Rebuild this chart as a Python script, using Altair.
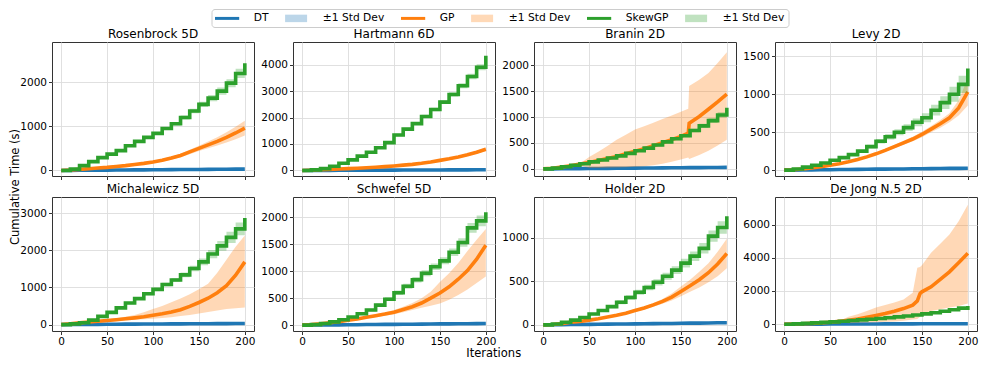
import altair as alt
import pandas as pd

# ---------------- data ----------------
ITERS = [0, 10, 20, 30, 40, 50, 60, 70, 80, 90, 100, 110, 120, 130, 140, 150, 160, 170, 180, 190, 200]
X_TICKS = [0, 50, 100, 150, 200]

TITLES = ["Rosenbrock 5D", "Hartmann 6D", "Branin 2D", "Levy 2D",
          "Michalewicz 5D", "Schwefel 5D", "Holder 2D", "De Jong N.5 2D"]
Y_DOMAINS = [[-126, 2914], [-210, 4853], [-137, 2446], [-77, 1688],
             [-173, 3438], [-108, 2371], [-70, 1470], [-410, 7660]]
Y_TICKS = [[0, 1000, 2000], [0, 1000, 2000, 3000, 4000], [0, 500, 1000, 1500, 2000],
           [0, 500, 1000, 1500], [0, 1000, 2000, 3000], [0, 500, 1000, 1500, 2000],
           [0, 500, 1000], [0, 2000, 4000, 6000]]

DT_SD = [0, 0.5, 1, 1, 1.5, 1.5, 2, 2, 2, 2.5, 2.5, 3, 3, 3, 3.5, 3.5, 4, 4, 4, 4.5, 4.5]

# Rosenbrock 5D
ROS_DT = [0, 2, 3, 5, 6, 8, 9, 11, 12, 14, 15, 17, 18, 20, 21, 23, 24, 26, 27, 29, 30]
ROS_GP = [0, 10, 25, 40, 55, 70, 90, 110, 135, 160, 190, 230, 280, 340, 420, 500, 580, 660, 750, 850, 960]
ROS_GP_SD = [0, 2, 4, 6, 8, 10, 12, 14, 16, 20, 25, 30, 35, 40, 50, 60, 75, 95, 115, 140, 170]
ROS_SK = [0, 30, 110, 200, 290, 370, 450, 560, 660, 750, 840, 950, 1060, 1200, 1350, 1500, 1640, 1800, 1980, 2200, 2430]
ROS_SK_SD = [0, 5, 8, 12, 15, 18, 20, 22, 25, 28, 30, 35, 40, 45, 50, 60, 70, 80, 90, 105, 120]

# Hartmann 6D
HAR_DT = [0, 1, 3, 4, 5, 6, 8, 9, 10, 12, 13, 14, 15, 17, 18, 19, 21, 22, 23, 24, 26]
HAR_GP = [0, 10, 25, 40, 55, 70, 85, 100, 120, 145, 170, 200, 230, 270, 320, 380, 440, 510, 590, 690, 800]
HAR_GP_SD = [0, 2, 3, 4, 5, 6, 7, 8, 10, 12, 14, 16, 18, 20, 23, 27, 32, 38, 45, 55, 70]
HAR_SK = [0, 20, 70, 160, 270, 400, 540, 690, 860, 1050, 1340, 1560, 1770, 2040, 2300, 2580, 2870, 3200, 3550, 3900, 4330]
HAR_SK_SD = [0, 5, 8, 12, 15, 20, 25, 30, 35, 40, 45, 50, 55, 60, 65, 70, 80, 90, 100, 110, 120]

# Branin 2D
BRA_DT = [0, 1, 3, 4, 6, 7, 9, 10, 12, 13, 15, 16, 18, 19, 21, 22, 24, 25, 27, 28, 30]
BRA_GP_X = [0, 10, 20, 30, 40, 50, 60, 70, 80, 90, 100, 110, 120, 130, 140, 150, 158, 159, 170, 180, 190, 200]
BRA_GP = [0, 12, 35, 62, 92, 125, 160, 200, 240, 290, 340, 390, 445, 505, 565, 625, 690, 880, 1010, 1150, 1290, 1440]
BRA_GP_HI = [0, 15, 40, 65, 100, 230, 330, 440, 560, 660, 760, 820, 890, 960, 1030, 1100, 1160, 1600, 1720, 1850, 2040, 2250]
BRA_GP_LO = [0, 8, 25, 45, 70, 15, 15, 20, 25, 30, 40, 50, 70, 100, 140, 180, 220, 190, 270, 350, 450, 560]
BRA_SK = [0, 15, 40, 70, 100, 135, 170, 210, 250, 300, 350, 400, 460, 520, 580, 640, 740, 830, 930, 1040, 1180]
BRA_SK_SD = [0, 3, 5, 8, 10, 12, 14, 16, 18, 20, 22, 24, 26, 28, 30, 32, 35, 40, 45, 50, 60]

# Levy 2D
LEV_DT = [0, 1, 3, 4, 5, 6, 8, 9, 10, 11, 13, 14, 15, 16, 18, 19, 20, 21, 23, 24, 25]
LEV_GP = [0, 5, 15, 30, 45, 65, 85, 110, 140, 175, 215, 260, 310, 360, 410, 470, 540, 610, 690, 820, 1030]
LEV_GP_SD = [0, 1, 2, 3, 4, 5, 6, 8, 10, 12, 15, 18, 22, 26, 30, 35, 42, 50, 60, 100, 180]
LEV_SK = [0, 15, 40, 65, 95, 130, 165, 205, 250, 310, 380, 440, 500, 560, 630, 690, 790, 890, 1000, 1130, 1340]
LEV_SK_SD = [0, 3, 5, 7, 9, 11, 13, 16, 20, 25, 30, 35, 40, 45, 52, 60, 70, 85, 100, 115, 130]

# Michalewicz 5D
MIC_DT = [0, 2, 3, 5, 6, 8, 9, 11, 12, 14, 15, 17, 18, 20, 21, 23, 24, 26, 27, 29, 30]
MIC_GP = [0, 20, 45, 70, 90, 110, 130, 155, 180, 210, 250, 290, 340, 400, 490, 595, 710, 860, 1050, 1330, 1690]
MIC_GP_HI = [0, 25, 55, 85, 110, 140, 170, 210, 260, 330, 420, 500, 600, 700, 820, 950, 1100, 1400, 1750, 2100, 2400]
MIC_GP_LO = [0, 15, 38, 58, 72, 85, 98, 112, 128, 145, 160, 180, 200, 230, 260, 300, 340, 380, 420, 440, 460]
MIC_SK = [0, 20, 50, 120, 220, 330, 450, 580, 700, 830, 950, 1080, 1200, 1340, 1510, 1690, 1900, 2120, 2350, 2580, 2870]
MIC_SK_SD = [0, 5, 8, 12, 16, 20, 25, 30, 35, 40, 45, 50, 55, 65, 75, 90, 110, 130, 150, 170, 200]

# Schwefel 5D
SCH_DT = [0, 2, 3, 5, 6, 8, 9, 11, 12, 14, 15, 17, 18, 20, 21, 23, 24, 26, 27, 29, 30]
SCH_GP = [0, 10, 25, 45, 65, 90, 115, 145, 175, 205, 240, 290, 340, 410, 500, 595, 710, 850, 1010, 1220, 1480]
SCH_GP_HI = [0, 12, 30, 52, 75, 100, 130, 165, 200, 235, 280, 340, 410, 500, 620, 800, 960, 1150, 1370, 1580, 1780]
SCH_GP_LO = [0, 8, 20, 38, 55, 80, 100, 125, 150, 175, 200, 240, 280, 320, 360, 400, 470, 560, 660, 780, 900]
SCH_SK = [0, 10, 30, 60, 100, 150, 210, 280, 370, 480, 600, 720, 840, 960, 1080, 1190, 1350, 1530, 1800, 1930, 2090]
SCH_SK_SD = [0, 3, 5, 8, 10, 15, 20, 25, 30, 35, 40, 45, 50, 55, 60, 65, 70, 80, 90, 100, 110]

# Holder 2D
HOL_DT = [0, 1, 2, 4, 5, 6, 7, 9, 10, 11, 12, 14, 15, 16, 17, 19, 20, 21, 22, 24, 25]
HOL_GP = [0, 5, 15, 30, 40, 55, 70, 90, 110, 135, 165, 195, 230, 270, 320, 385, 450, 520, 600, 700, 820]
HOL_GP_SD = [0, 1, 2, 3, 4, 5, 6, 8, 10, 12, 15, 18, 22, 28, 40, 55, 70, 90, 110, 140, 170]
HOL_SK = [0, 10, 30, 55, 85, 125, 165, 210, 260, 315, 375, 430, 490, 560, 630, 710, 790, 880, 1020, 1120, 1250]
HOL_SK_SD = [0, 3, 5, 8, 10, 13, 16, 19, 22, 25, 28, 32, 36, 40, 45, 50, 55, 60, 65, 72, 80]

# De Jong N.5 2D
DJ_DT = [0, 2, 3, 5, 6, 8, 9, 11, 12, 14, 15, 17, 18, 20, 21, 23, 24, 26, 27, 29, 30]
DJ_GP_X = [0, 10, 20, 30, 40, 50, 60, 70, 80, 90, 100, 110, 120, 130, 140, 145, 148, 150, 160, 170, 180, 190, 200]
DJ_GP = [0, 10, 30, 50, 80, 120, 170, 230, 310, 410, 520, 640, 780, 940, 1150, 1400, 1850, 1950, 2250, 2700, 3150, 3700, 4270]
DJ_GP_HI = [0, 12, 33, 56, 90, 135, 190, 450, 600, 800, 1000, 1150, 1300, 1480, 1900, 3400, 3450, 3550, 4300, 4850, 5400, 6200, 7200]
DJ_GP_LO = [0, 8, 27, 44, 70, 105, 150, 60, 80, 100, 120, 140, 160, 200, 280, 320, 450, 600, 800, 900, 1000, 1100, 1250]
DJ_SK = [0, 20, 50, 80, 110, 140, 180, 220, 260, 300, 340, 390, 440, 490, 550, 620, 690, 780, 870, 970, 1100]
DJ_SK_SD = [0, 3, 5, 7, 9, 11, 13, 15, 17, 19, 21, 23, 25, 28, 31, 34, 38, 42, 46, 50, 55]

# legend entries (the three band entries share one visible text; zero-width marks keep them distinct)
SD_LABEL = "±1 Std Dev"
LEGEND_KEYS = ["DT", SD_LABEL, "GP", SD_LABEL + "\u200b", "SkewGP", SD_LABEL + "\u200b\u200b"]
SERIES_KEYS = ["DT", "GP", "SkewGP"]
LINE_COLORS = ["#1f77b4", "#ff7f0e", "#2ca02c"]
LEGEND_COLORS = ["#1f77b4", "#bcd6e9", "#ff7f0e", "#ffd9b7", "#2ca02c", "#c0e2c0"]


def sd_bounds(mean, sd):
    return [m - s for m, s in zip(mean, sd)], [m + s for m, s in zip(mean, sd)]


def frame(x, mean, lo, hi, key):
    return pd.DataFrame({"iter": x, "mean": mean, "lo": lo, "hi": hi, "key": key})


def sd_frame(mean, sd, key, x=ITERS):
    lo, hi = sd_bounds(mean, sd)
    return frame(x, mean, lo, hi, key)


PANEL_SERIES = [
    [sd_frame(ROS_DT, DT_SD, "DT"), sd_frame(ROS_GP, ROS_GP_SD, "GP"), sd_frame(ROS_SK, ROS_SK_SD, "SkewGP")],
    [sd_frame(HAR_DT, DT_SD, "DT"), sd_frame(HAR_GP, HAR_GP_SD, "GP"), sd_frame(HAR_SK, HAR_SK_SD, "SkewGP")],
    [sd_frame(BRA_DT, DT_SD, "DT"), frame(BRA_GP_X, BRA_GP, BRA_GP_LO, BRA_GP_HI, "GP"), sd_frame(BRA_SK, BRA_SK_SD, "SkewGP")],
    [sd_frame(LEV_DT, DT_SD, "DT"), sd_frame(LEV_GP, LEV_GP_SD, "GP"), sd_frame(LEV_SK, LEV_SK_SD, "SkewGP")],
    [sd_frame(MIC_DT, DT_SD, "DT"), frame(ITERS, MIC_GP, MIC_GP_LO, MIC_GP_HI, "GP"), sd_frame(MIC_SK, MIC_SK_SD, "SkewGP")],
    [sd_frame(SCH_DT, DT_SD, "DT"), frame(ITERS, SCH_GP, SCH_GP_LO, SCH_GP_HI, "GP"), sd_frame(SCH_SK, SCH_SK_SD, "SkewGP")],
    [sd_frame(HOL_DT, DT_SD, "DT"), sd_frame(HOL_GP, HOL_GP_SD, "GP"), sd_frame(HOL_SK, HOL_SK_SD, "SkewGP")],
    [sd_frame(DJ_DT, DT_SD, "DT"), frame(DJ_GP_X, DJ_GP, DJ_GP_LO, DJ_GP_HI, "GP"), sd_frame(DJ_SK, DJ_SK_SD, "SkewGP")],
]

# ---------------- styling ----------------
FONT = "DejaVu Sans"
W, H = 202, 134
COL_GAP, ROW_GAP = 39, 21

LINE_PATH = "M-2.2,-0.27H2.2V0.27H-2.2Z"
RECT_PATH = "M-2,-0.68H2V0.68H-2Z"
SHAPES = [LINE_PATH, RECT_PATH, LINE_PATH, RECT_PATH, LINE_PATH, RECT_PATH]

color_scale = alt.Scale(domain=LEGEND_KEYS, range=LEGEND_COLORS)
stroke_scale = alt.Scale(domain=SERIES_KEYS, range=LINE_COLORS)
fill_scale = alt.Scale(domain=SERIES_KEYS, range=LINE_COLORS)
shape_scale = alt.Scale(domain=LEGEND_KEYS, range=SHAPES)
x_scale = alt.Scale(domain=[-10, 210], nice=False, zero=False)

legend_props = dict(
    title=None,
    orient="none",
    legendX=159.5,
    legendY=-33,
    direction="horizontal",
    labelFont=FONT,
    labelFontSize=10.7,
    labelColor="black",
    labelOffset=21.2,
    labelLimit=200,
    symbolOffset=6.6,
    symbolSize=121,
    symbolStrokeWidth=0,
    columnPadding=15,
    padding=3.5,
    strokeColor="#cccccc",
    fillColor="white",
    cornerRadius=3,
)


def panel(i):
    y_scale = alt.Scale(domain=Y_DOMAINS[i], nice=False, zero=False)
    x_axis_kw = dict(values=X_TICKS, labels=i >= 4, labelFlush=False, title=None)
    if i == 5:
        x_axis_kw.update(title="Iterations", titleX=493.5 - (52.25 + W + COL_GAP), titleY=22,
                         titleBaseline="middle", titleAlign="center")
    y_axis_kw = dict(values=Y_TICKS[i], format="d", title=None, labelFlush=False)
    if i == 0:
        y_axis_kw.update(title="Cumulative Time (s)", titleX=-37, titleY=(2 * H + ROW_GAP) / 2,
                         titleBaseline="middle", titleAlign="center", titleAngle=270)
    x_axis = alt.Axis(**x_axis_kw)
    y_axis = alt.Axis(**y_axis_kw)

    layers = []
    for df, interp in zip(PANEL_SERIES[i], ["linear", "linear", "step-after"]):
        band = alt.Chart(df).mark_area(opacity=0.3, interpolate=interp).encode(
            x=alt.X("iter:Q", scale=x_scale, axis=x_axis),
            y=alt.Y("lo:Q", scale=y_scale, axis=y_axis),
            y2="hi:Q",
            fill=alt.Fill("key:N", scale=fill_scale, legend=None),
        )
        line = alt.Chart(df).mark_line(strokeWidth=3.6, interpolate=interp).encode(
            x=alt.X("iter:Q", scale=x_scale, axis=x_axis),
            y=alt.Y("mean:Q", scale=y_scale, axis=y_axis),
            stroke=alt.Stroke("key:N", scale=stroke_scale, legend=None),
        )
        layers += [band, line]

    if i == 0:
        leg_df = pd.DataFrame({"key": LEGEND_KEYS, "iter": [-1000] * 6, "mean": [0] * 6})
        leg = alt.Chart(leg_df).mark_point(filled=True, size=121, opacity=1, clip=True).encode(
            x=alt.X("iter:Q", scale=x_scale, axis=x_axis),
            y=alt.Y("mean:Q", scale=y_scale, axis=y_axis),
            color=alt.Color("key:N", scale=color_scale, legend=alt.Legend(**legend_props)),
            shape=alt.Shape("key:N", scale=shape_scale, legend=alt.Legend(**legend_props)),
        )
        layers.append(leg)

    return alt.layer(*layers).properties(
        width=W,
        height=H,
        title=alt.TitleParams(text=TITLES[i], fontSize=12, fontWeight="normal", font=FONT,
                              offset=-10.5, baseline="bottom", color="black", anchor="middle",
                              frame="group"),
    )


chart = alt.concat(
    *[panel(i) for i in range(8)],
    columns=4,
    spacing={"row": ROW_GAP, "column": COL_GAP},
    bounds="flush",
).properties(
    padding=0,
).configure(
    font=FONT,
).configure_view(
    stroke="#333333",
    strokeWidth=1,
).configure_axis(
    labelFont=FONT,
    labelFontSize=10.5,
    labelColor="black",
    labelPadding=2,
    tickColor="#333333",
    tickSize=3.5,
    tickWidth=1,
    domain=False,
    grid=True,
    gridColor="#dcdcdc",
    gridWidth=0.9,
    titleFont=FONT,
    titleFontSize=11.5,
    titleFontWeight="normal",
    titleColor="black",
)

chart.save("out.html", embed_options={"renderer": "svg", "actions": False})
